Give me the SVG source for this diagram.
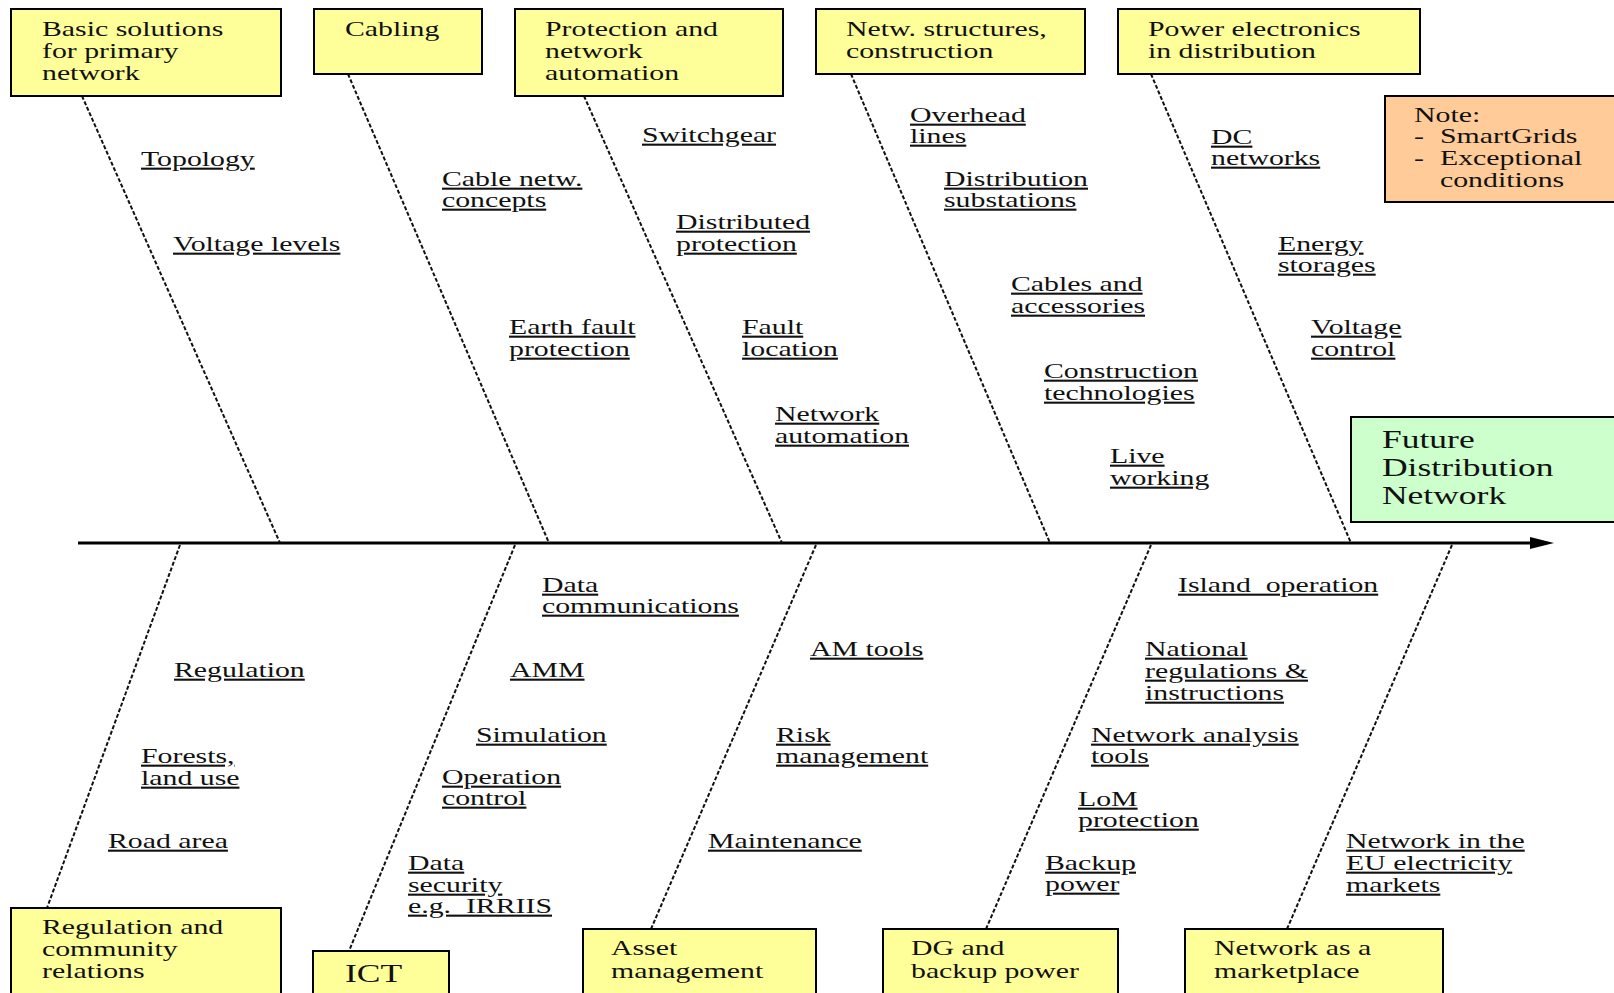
<svg xmlns="http://www.w3.org/2000/svg" width="1614" height="993" viewBox="0 0 1614 993">
<style>
.box{stroke:#000;stroke-width:2}
.y{fill:#ffff99}
.t{font-family:"Liberation Serif","Times New Roman",serif;font-size:21px;fill:#111}
.big{font-size:25px}
.u{text-decoration:underline}
.pre{white-space:pre}
.bone{stroke:#111;stroke-width:2;stroke-dasharray:4 2;fill:none}
.axis{stroke:#000;stroke-width:3;fill:none}
</style>
<defs>
<marker id="arr" markerUnits="userSpaceOnUse" viewBox="0 0 24 12" markerWidth="24" markerHeight="12" refX="2" refY="6" orient="auto">
<path d="M0,0 L24,6 L0,12 z" fill="#000"/>
</marker>
</defs>
<rect width="1614" height="993" fill="#fff"/>

<g id="connectors">
<line class="axis" x1="78" y1="543" x2="1532" y2="543" marker-end="url(#arr)"/>
<line class="bone" x1="82" y1="96" x2="280" y2="543"/>
<line class="bone" x1="348" y1="74" x2="549" y2="543"/>
<line class="bone" x1="584" y1="96" x2="782" y2="543"/>
<line class="bone" x1="851" y1="74" x2="1050" y2="543"/>
<line class="bone" x1="1151" y1="74" x2="1351" y2="543"/>
<line class="bone" x1="180" y1="545" x2="47" y2="908"/>
<line class="bone" x1="515" y1="545" x2="349" y2="951"/>
<line class="bone" x1="816" y1="545" x2="651" y2="929"/>
<line class="bone" x1="1151" y1="545" x2="986" y2="929"/>
<line class="bone" x1="1452" y1="545" x2="1287" y2="929"/>
</g>

<g id="basic">
<rect class="box y" x="11" y="9" width="270" height="87"/>
<text class="t" transform="translate(42,36) scale(1.42,1)"><tspan x="0">Basic solutions</tspan><tspan x="0" dy="22">for primary</tspan><tspan x="0" dy="22">network</tspan></text>
</g>
<g id="cabling">
<rect class="box y" x="314" y="9" width="168" height="65"/>
<text class="t" transform="translate(345,36) scale(1.42,1)">Cabling</text>
</g>
<g id="protection">
<rect class="box y" x="515" y="9" width="268" height="87"/>
<text class="t" transform="translate(545,36) scale(1.42,1)"><tspan x="0">Protection and</tspan><tspan x="0" dy="22">network</tspan><tspan x="0" dy="22">automation</tspan></text>
</g>
<g id="structures">
<rect class="box y" x="816" y="9" width="269" height="65"/>
<text class="t" transform="translate(846,36) scale(1.42,1)"><tspan x="0">Netw. structures,</tspan><tspan x="0" dy="22">construction</tspan></text>
</g>
<g id="powerelectronics">
<rect class="box y" x="1118" y="9" width="302" height="65"/>
<text class="t" transform="translate(1148,36) scale(1.42,1)"><tspan x="0">Power electronics</tspan><tspan x="0" dy="22">in distribution</tspan></text>
</g>
<g id="note">
<rect class="box" fill="#ffcc99" x="1385" y="96" width="240" height="106"/>
<text class="t" transform="translate(1414,122) scale(1.42,1)">Note:</text>
<text class="t" transform="translate(1414,143) scale(1.42,1)">-</text>
<text class="t" transform="translate(1440,143) scale(1.42,1)">SmartGrids</text>
<text class="t" transform="translate(1414,165) scale(1.42,1)">-</text>
<text class="t" transform="translate(1440,165) scale(1.42,1)"><tspan x="0">Exceptional</tspan><tspan x="0" dy="22">conditions</tspan></text>
</g>
<g id="future">
<rect class="box" fill="#ccffcc" x="1351" y="417" width="270" height="105"/>
<text class="t big" transform="translate(1382,448) scale(1.42,1)"><tspan x="0">Future</tspan><tspan x="0" dy="28">Distribution</tspan><tspan x="0" dy="28">Network</tspan></text>
</g>

<g id="regulation">
<rect class="box y" x="11" y="908" width="270" height="100"/>
<text class="t" transform="translate(42,934) scale(1.42,1)"><tspan x="0">Regulation and</tspan><tspan x="0" dy="22">community</tspan><tspan x="0" dy="22">relations</tspan></text>
</g>
<g id="ict">
<rect class="box y" x="313" y="951" width="136" height="60"/>
<text class="t big" transform="translate(345,982) scale(1.42,1)">ICT</text>
</g>
<g id="asset">
<rect class="box y" x="583" y="929" width="233" height="80"/>
<text class="t" transform="translate(611,955) scale(1.42,1)"><tspan x="0">Asset</tspan><tspan x="0" dy="23">management</tspan></text>
</g>
<g id="dg">
<rect class="box y" x="883" y="929" width="235" height="80"/>
<text class="t" transform="translate(911,955) scale(1.42,1)"><tspan x="0">DG and</tspan><tspan x="0" dy="23">backup power</tspan></text>
</g>
<g id="market">
<rect class="box y" x="1185" y="929" width="258" height="80"/>
<text class="t" transform="translate(1214,955) scale(1.42,1)"><tspan x="0">Network as a</tspan><tspan x="0" dy="23">marketplace</tspan></text>
</g>

<g id="labels-upper">
<text class="t u" transform="translate(141,166) scale(1.42,1)">Topology</text>
<text class="t u" transform="translate(173,251) scale(1.42,1)">Voltage levels</text>
<text class="t u" transform="translate(442,186) scale(1.42,1)"><tspan x="0">Cable netw.</tspan><tspan x="0" dy="21">concepts</tspan></text>
<text class="t u" transform="translate(509,334) scale(1.42,1)"><tspan x="0">Earth fault</tspan><tspan x="0" dy="22">protection</tspan></text>
<text class="t u" transform="translate(642,142) scale(1.42,1)">Switchgear</text>
<text class="t u" transform="translate(676,229) scale(1.42,1)"><tspan x="0">Distributed</tspan><tspan x="0" dy="22">protection</tspan></text>
<text class="t u" transform="translate(742,334) scale(1.42,1)"><tspan x="0">Fault</tspan><tspan x="0" dy="22">location</tspan></text>
<text class="t u" transform="translate(775,421) scale(1.42,1)"><tspan x="0">Network</tspan><tspan x="0" dy="22">automation</tspan></text>
<text class="t u" transform="translate(910,122) scale(1.42,1)"><tspan x="0">Overhead</tspan><tspan x="0" dy="21">lines</tspan></text>
<text class="t u" transform="translate(944,186) scale(1.42,1)"><tspan x="0">Distribution</tspan><tspan x="0" dy="21">substations</tspan></text>
<text class="t u" transform="translate(1011,291) scale(1.42,1)"><tspan x="0">Cables and</tspan><tspan x="0" dy="22">accessories</tspan></text>
<text class="t u" transform="translate(1044,378) scale(1.42,1)"><tspan x="0">Construction</tspan><tspan x="0" dy="22">technologies</tspan></text>
<text class="t u" transform="translate(1110,463) scale(1.42,1)"><tspan x="0">Live</tspan><tspan x="0" dy="22">working</tspan></text>
<text class="t u" transform="translate(1211,144) scale(1.42,1)"><tspan x="0">DC</tspan><tspan x="0" dy="21">networks</tspan></text>
<text class="t u" transform="translate(1278,251) scale(1.42,1)"><tspan x="0">Energy</tspan><tspan x="0" dy="21">storages</tspan></text>
<text class="t u" transform="translate(1311,334) scale(1.42,1)"><tspan x="0">Voltage</tspan><tspan x="0" dy="22">control</tspan></text>
</g>

<g id="labels-lower">
<text class="t u" transform="translate(174,677) scale(1.42,1)">Regulation</text>
<text class="t u" transform="translate(141,763) scale(1.42,1)"><tspan x="0">Forests,</tspan><tspan x="0" dy="22">land use</tspan></text>
<text class="t u" transform="translate(108,848) scale(1.42,1)">Road area</text>
<text class="t u" transform="translate(542,592) scale(1.42,1)"><tspan x="0">Data</tspan><tspan x="0" dy="21">communications</tspan></text>
<text class="t u" transform="translate(510,677) scale(1.42,1)">AMM</text>
<text class="t u" transform="translate(476,742) scale(1.42,1)">Simulation</text>
<text class="t u" transform="translate(442,784) scale(1.42,1)"><tspan x="0">Operation</tspan><tspan x="0" dy="21">control</tspan></text>
<text class="t u pre" xml:space="preserve" transform="translate(408,870) scale(1.42,1)"><tspan x="0">Data</tspan><tspan x="0" dy="22">security</tspan><tspan x="0" dy="21">e.g.  IRRIIS</tspan></text>
<text class="t u" transform="translate(810,656) scale(1.42,1)">AM tools</text>
<text class="t u" transform="translate(776,742) scale(1.42,1)"><tspan x="0">Risk</tspan><tspan x="0" dy="21">management</tspan></text>
<text class="t u" transform="translate(708,848) scale(1.42,1)">Maintenance</text>
<text class="t u pre" xml:space="preserve" transform="translate(1178,592) scale(1.42,1)">Island  operation</text>
<text class="t u" transform="translate(1145,656) scale(1.42,1)"><tspan x="0">National</tspan><tspan x="0" dy="22">regulations &amp;</tspan><tspan x="0" dy="22">instructions</tspan></text>
<text class="t u" transform="translate(1091,742) scale(1.42,1)"><tspan x="0">Network analysis</tspan><tspan x="0" dy="21">tools</tspan></text>
<text class="t u" transform="translate(1078,806) scale(1.42,1)"><tspan x="0">LoM</tspan><tspan x="0" dy="21">protection</tspan></text>
<text class="t u" transform="translate(1045,870) scale(1.42,1)"><tspan x="0">Backup</tspan><tspan x="0" dy="21">power</tspan></text>
<text class="t u" transform="translate(1346,848) scale(1.42,1)"><tspan x="0">Network in the</tspan><tspan x="0" dy="22">EU electricity</tspan><tspan x="0" dy="22">markets</tspan></text>
</g>
</svg>
